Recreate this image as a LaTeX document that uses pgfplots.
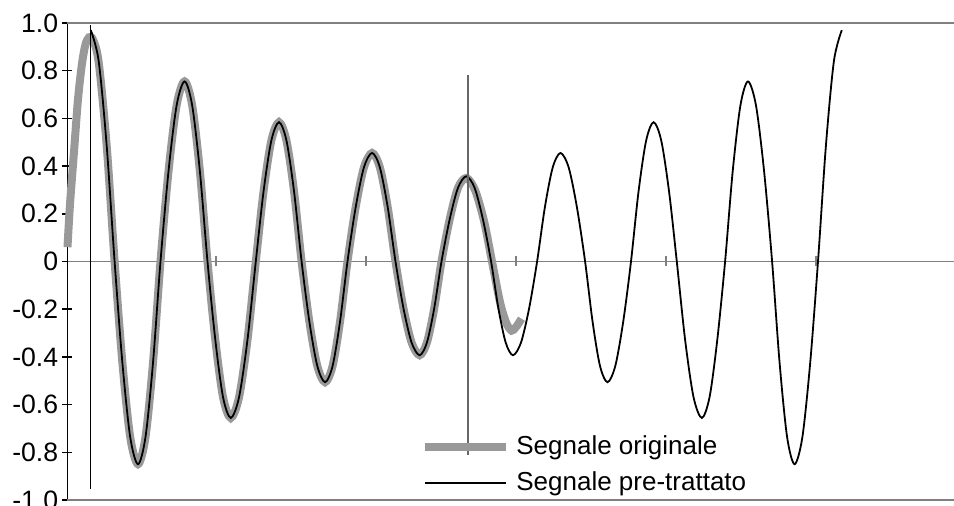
\documentclass[border=0pt]{standalone}
\usepackage{fontspec}
\setmainfont{Liberation Sans}
\usepackage{pgfplots}
\pgfplotsset{compat=1.18}
\definecolor{origgray}{RGB}{153,153,153}
\definecolor{framegray}{RGB}{128,128,128}
\begin{document}
\begin{tikzpicture}
\begin{axis}[
  scale only axis, width=443.25pt, height=238.5pt,
  xmin=1.5, xmax=888, ymin=-1, ymax=1,
  clip=false,
  axis x line=middle, axis y line=left,
  x axis line style={-, framegray, line width=0.75pt},
  y axis line style={-, black, line width=0.9pt},
  hide obscured x ticks=false, hide obscured y ticks=false,
  xtick={150,300,450,600,750}, xticklabels={},
  x tick style={framegray, line width=0.75pt},
  ytick={-1,-0.8,-0.6,-0.4,-0.2,0,0.2,0.4,0.6,0.8,1},
  yticklabels={-1.0,-0.8,-0.6,-0.4,-0.2,0,0.2,0.4,0.6,0.8,1.0},
  y tick style={black, line width=0.75pt},
  tick align=center, major tick length=5pt,
  yticklabel style={font=\fontsize{13.3}{16}\selectfont, inner sep=2pt},
  legend style={draw=none, fill=none, at={(axis cs:355,-0.721)}, anchor=north west,
    font=\fontsize{13}{15.6}\selectfont, inner sep=0pt, row sep=5pt, column sep=2pt,
    nodes={inner sep=1pt}},
  legend cell align=left,
  legend image code/.code={\draw[#1] (0pt,0pt) -- (40.5pt,0pt);},
]
\addplot[origgray, line width=4pt, smooth] coordinates {
(1.5,0.06) (4,0.24) (8,0.46) (12,0.68) (16,0.83) (19.5,0.91) (23,0.94) (27,0.93)
(32.7,0.835) (40.7,0.485) (48.6,0) (56.4,-0.425) (64.2,-0.736) (72.0,-0.85)
(79.5,-0.736) (87.0,-0.425) (94.5,0) (102.5,0.378) (110.6,0.654) (118.6,0.755)
(126.2,0.654) (133.9,0.378) (141.5,0) (149.3,-0.328) (157.0,-0.568) (164.8,-0.656)
(173.1,-0.568) (181.5,-0.328) (189.8,0) (197.5,0.292) (205.3,0.506) (213.0,0.584)
(220.5,0.506) (228.1,0.292) (235.6,0) (243.4,-0.253) (251.3,-0.438) (259.1,-0.506)
(266.6,-0.438) (274.0,-0.253) (281.5,0) (289.7,0.228) (297.9,0.394) (306.1,0.455)
(313.9,0.394) (321.7,0.228) (329.5,0) (337.5,-0.197) (345.6,-0.340) (353.6,-0.393)
(360.9,-0.340) (368.2,-0.197) (375.5,0) (383.8,0.179) (392.0,0.309) (400.3,0.35)
(409,0.30) (418,0.17) (426,0) (434,-0.17) (440,-0.255) (445.5,-0.29) (450,-0.275) (455.5,-0.24)
};
\addlegendentry{Segnale originale}
\addplot[black, line width=0.9pt, smooth] coordinates {
(24.8,0.97) (32.7,0.840) (40.7,0.485) (48.6,0) (56.4,-0.425) (64.2,-0.736) (72.0,-0.85)
(79.5,-0.736) (87.0,-0.425) (94.5,0) (102.5,0.378) (110.6,0.654) (118.6,0.755)
(126.2,0.654) (133.9,0.378) (141.5,0) (149.3,-0.328) (157.0,-0.568) (164.8,-0.656)
(173.1,-0.568) (181.5,-0.328) (189.8,0) (197.5,0.292) (205.3,0.506) (213.0,0.584)
(220.5,0.506) (228.1,0.292) (235.6,0) (243.4,-0.253) (251.3,-0.438) (259.1,-0.506)
(266.6,-0.438) (274.0,-0.253) (281.5,0) (289.7,0.228) (297.9,0.394) (306.1,0.455)
(313.9,0.394) (321.7,0.228) (329.5,0) (337.5,-0.197) (345.6,-0.340) (353.6,-0.393)
(360.9,-0.340) (368.2,-0.197) (375.5,0) (383.8,0.179) (392.0,0.309) (400.3,0.357)
(408.6,0.309) (416.8,0.179) (425.1,0) (432.4,-0.197) (439.7,-0.340) (447.0,-0.393)
(455.0,-0.340) (463.1,-0.197) (471.1,0) (478.9,0.228) (486.7,0.394) (494.5,0.455)
(502.7,0.394) (510.9,0.228) (519.1,0) (526.6,-0.253) (534.0,-0.438) (541.5,-0.506)
(549.3,-0.438) (557.2,-0.253) (565.0,0) (572.5,0.292) (580.1,0.506) (587.6,0.584)
(595.3,0.506) (603.1,0.292) (610.8,0) (619.1,-0.328) (627.5,-0.568) (635.8,-0.656)
(643.6,-0.568) (651.3,-0.328) (659.1,0) (666.7,0.378) (674.4,0.654) (682.0,0.755)
(690.0,0.654) (698.1,0.378) (706.1,0) (713.6,-0.425) (721.1,-0.736) (728.6,-0.85)
(736.4,-0.736) (744.2,-0.425) (752.0,0) (759.9,0.485) (767.9,0.840) (775.8,0.97)
};
\addlegendentry{Segnale pre-trattato}
\addplot[forget plot, black, line width=0.6pt] coordinates {(24.7,0.992) (24.7,-0.954)};
\addplot[forget plot, framegray!80!black, line width=0.7pt] coordinates {(402,0.784) (402,-0.81)};
\draw[framegray, line width=0.75pt] (axis cs:1.5,1) -- (axis cs:888,1);
\draw[framegray, line width=0.75pt] (axis cs:1.5,-1) -- (axis cs:888,-1);
\end{axis}
\pgfresetboundingbox
\path[use as bounding box] ([xshift=-33.75pt,yshift=-3pt]current axis.south west) rectangle ([yshift=11.5pt]current axis.north east);
\end{tikzpicture}
\end{document}
